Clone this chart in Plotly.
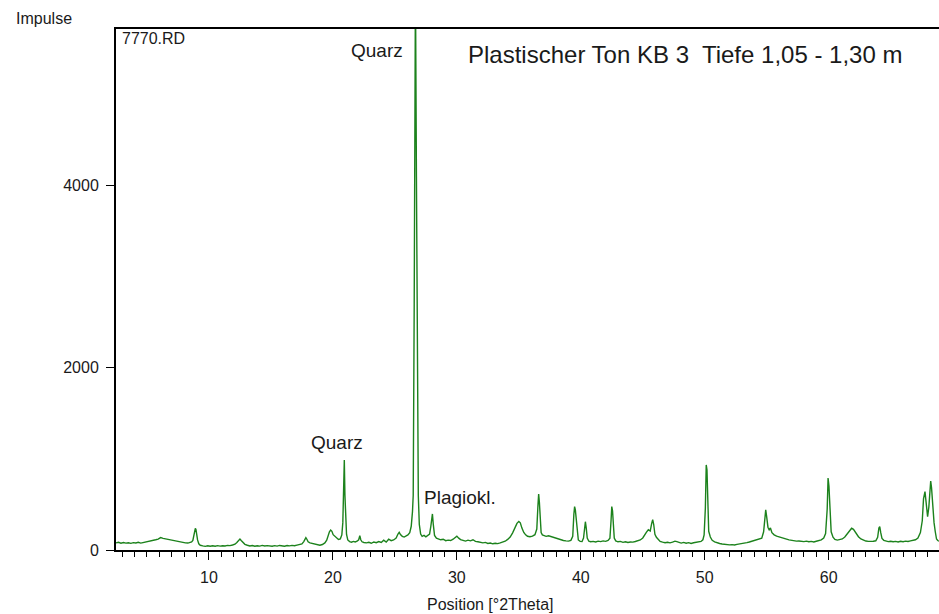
import plotly.graph_objects as go

# ---- diffraction pattern (2Theta in degrees, counts) ----
x1 = [2.5,2.7,2.9,3.1,3.3,3.5,3.7,3.9,4.1,4.3,4.5,4.7,4.9,5.1,5.3,5.5,5.7,5.9,6.1,6.3,6.5,6.7,6.9,7.1,7.3,7.5,7.7,7.9,8.1,8.3,8.5]
y1 = [78,84,75,82,76,80,73,81,77,84,76,82,80,88,93,102,112,120,136,128,122,114,106,100,95,90,86,83,78,76,82]
x2 = [8.6,8.7,8.78,8.85,8.9,8.95,9.0,9.08,9.18,9.3]
y2 = [88,104,150,210,238,225,170,110,68,52]
x3 = [9.5,9.7,9.9,10.1,10.3,10.5,10.7,10.9,11.1,11.3,11.5,11.7,11.9,12.1,12.25,12.4,12.5,12.6,12.75,12.9,13.1]
y3 = [45,40,46,41,47,42,48,43,47,44,50,48,55,64,82,108,120,104,80,62,52]
x4 = [13.3,13.5,13.7,13.9,14.1,14.3,14.5,14.7,14.9,15.1,15.3,15.5,15.7,15.9,16.1,16.3,16.5,16.7,16.9,17.1,17.3,17.5]
y4 = [44,49,42,47,43,50,44,48,45,41,48,43,50,46,42,49,45,51,47,54,57,66]
x5 = [17.65,17.75,17.82,17.9,18.0,18.15,18.35,18.55,18.75,18.95,19.15,19.35,19.5,19.62,19.72,19.82,19.92,20.02,20.15,20.3,20.45,20.6,20.72]
y5 = [92,120,135,118,90,78,72,64,58,52,60,78,108,160,200,218,205,168,150,125,115,122,165]
x6 = [20.8,20.86,20.92,20.97,21.03,21.1,21.2,21.35,21.5,21.65,21.8,21.95,22.08,22.17,22.25,22.35,22.5]
y6 = [300,590,985,600,320,170,110,92,86,94,88,96,112,158,112,90,82]
x7 = [22.7,22.9,23.1,23.3,23.5,23.7,23.9,24.1,24.3,24.5,24.7,24.9,25.1,25.25,25.35,25.45,25.6,25.75,25.9,26.05,26.2,26.32]
y7 = [78,85,74,88,80,92,82,108,86,118,102,110,130,175,194,170,150,142,150,165,190,260]
x8 = [26.42,26.48,26.56,26.66,26.74,26.82,26.89,26.97,27.08]
y8 = [420,600,2700,6200,4090,2000,600,280,175]
x9 = [27.2,27.35,27.5,27.65,27.8,27.9,27.97,28.03,28.1,28.2,28.35,28.5,28.7,28.9,29.1,29.3,29.5,29.7,29.85,30.0,30.15,30.3,30.5,30.7,30.9]
y9 = [150,160,145,158,175,260,360,395,280,160,130,122,112,118,102,108,104,118,140,152,130,114,106,98,108]
x10 = [31.1,31.3,31.5,31.7,31.9,32.1,32.3,32.5,32.7,32.9,33.1,33.3,33.5,33.7,33.9,34.1,34.3,34.5,34.7,34.85,35.0,35.12,35.25,35.4,35.55,35.7,35.9,36.1,36.3]
y10 = [100,112,94,90,84,78,83,72,77,68,74,70,78,84,96,116,142,188,246,292,312,298,240,192,166,150,145,152,168]
x11 = [36.45,36.54,36.6,36.66,36.72,36.8,36.9,37.05,37.2,37.4,37.6,37.8,38.0,38.2,38.4,38.6,38.8,39.0,39.2]
y11 = [230,480,614,520,280,190,165,158,150,156,146,140,130,122,112,104,100,97,106]
x12 = [39.35,39.44,39.5,39.56,39.62,39.7,39.8,39.95,40.1,40.22,40.3,40.37,40.44,40.52,40.65,40.8]
y12 = [150,390,475,440,360,180,110,94,92,130,250,310,240,130,96,90]
x13 = [41.0,41.2,41.4,41.6,41.8,42.0,42.2,42.35,42.44,42.5,42.56,42.62,42.7,42.82,43.0,43.2,43.4,43.6,43.8,44.0,44.2,44.4]
y13 = [94,88,97,92,100,95,104,130,320,475,430,250,130,100,90,94,84,90,82,88,86,93]
x14 = [44.6,44.8,45.0,45.15,45.3,45.45,45.6,45.72,45.8,45.88,45.98,46.1,46.25,46.4,46.6,46.8,47.0,47.2,47.4,47.6,47.75,47.9,48.1,48.3,48.5,48.7,48.9,49.1,49.3,49.5,49.7]
y14 = [98,110,132,172,196,222,208,292,332,282,172,140,112,94,86,80,85,78,86,97,92,82,76,83,74,81,72,79,85,83,94]
x15 = [49.85,49.95,50.05,50.12,50.18,50.24,50.32,50.45,50.6,50.8,51.0,51.2,51.4,51.6,51.8,52.0,52.2,52.4,52.6,52.8,53.0,53.2,53.4,53.6,53.8,54.0,54.2,54.4,54.6]
y15 = [112,165,460,932,880,520,205,142,106,90,78,71,66,61,63,56,59,55,61,64,71,75,81,88,96,101,109,116,130]
x16 = [54.75,54.85,54.92,55.0,55.1,55.2,55.3,55.42,55.6,55.8,56.0,56.2,56.4,56.6,56.8,57.0,57.2,57.4,57.6,57.8,58.0,58.2,58.4,58.6,58.8,59.0,59.2,59.4,59.6]
y16 = [200,380,440,360,250,222,242,190,166,151,141,133,126,119,111,105,101,97,99,94,92,97,90,94,88,96,101,111,132]
x17 = [59.75,59.88,59.95,60.02,60.1,60.2,60.35,60.5,60.7,60.9,61.1,61.3,61.5,61.7,61.85,62.0,62.2,62.4,62.6,62.8,63.0,63.2,63.4,63.6,63.8]
y17 = [180,450,789,700,400,200,140,116,108,113,121,142,182,222,238,226,186,146,121,106,98,94,92,96,101]
x18 = [63.95,64.05,64.12,64.2,64.3,64.45,64.6,64.8,65.0,65.2,65.4,65.6,65.8,66.0,66.2,66.4,66.6,66.8,67.0,67.2,67.4,67.55,67.65,67.77,67.87,67.98,68.08,68.16,68.23,68.3,68.39,68.5,68.6,68.7,68.8,68.9]
y18 = [140,240,255,190,126,106,98,92,96,90,94,88,95,91,97,93,100,104,112,130,190,320,560,640,500,365,470,700,756,680,475,300,200,120,104,96]

x_segments = [x1, x2, x3, x4, x5, x6, x7, x8, x9, x10, x11, x12, x13, x14, x15, x16, x17, x18]
y_segments = [y1, y2, y3, y4, y5, y6, y7, y8, y9, y10, y11, y12, y13, y14, y15, y16, y17, y18]

y_ticks = [0, 2000, 4000]
x_ticks = [10, 20, 30, 40, 50, 60]
x_range = [2.5, 68.9]
y_range = [0, 5710]

two_theta, impulse = [], []
for xs, ys in zip(x_segments, y_segments):
    assert len(xs) == len(ys)
    two_theta += xs
    impulse += ys

W, H = 939, 614
L, R, T, B = 116, 0, 29, 64
PW, PH = W - L - R, H - T - B

def px(xp):
    return (xp - L) / PW

def py(yp):
    return (H - B - yp) / PH

FONT = "Liberation Sans, Arial, sans-serif"
TXT = "#1a1a1a"

fig = go.Figure(go.Scatter(
    x=two_theta, y=impulse, mode="lines",
    line=dict(color="#1c821c", width=1.4),
    hoverinfo="skip", showlegend=False,
))

fig.update_layout(
    width=W, height=H,
    margin=dict(l=L, r=R, t=T, b=B, pad=0),
    paper_bgcolor="white", plot_bgcolor="white",
    font=dict(family=FONT, size=16, color=TXT),
    xaxis=dict(
        range=x_range, tickvals=x_ticks, ticks="outside", ticklen=8, tickwidth=1,
        tickcolor="black", showline=True, linecolor="black", linewidth=2, mirror=True,
        showgrid=False, zeroline=False, ticklabelstandoff=4,
        tickfont=dict(family=FONT, size=16, color=TXT),
        minor=dict(dtick=1, tick0=0, ticks="outside", ticklen=5, tickcolor="black", tickwidth=1, showgrid=False),
    ),
    yaxis=dict(
        range=y_range, tickvals=y_ticks, ticks="outside", ticklen=8, tickwidth=1,
        tickcolor="black", showline=True, linecolor="black", linewidth=2,
        showgrid=False, zeroline=False, ticklabelstandoff=4,
        tickfont=dict(family=FONT, size=16, color=TXT),
    ),
)

ann = [
    dict(text="Plastischer Ton KB 3  Tiefe 1,05 - 1,30 m", x=px(684.5), y=py(54), xanchor="center", yanchor="middle", size=24),
    dict(text="Quarz", x=px(405), y=py(51), xanchor="right", yanchor="middle", size=19),
    dict(text="Quarz", x=px(336.5), y=py(442), xanchor="center", yanchor="middle", size=19),
    dict(text="Plagiokl.", x=px(422), y=py(497), xanchor="left", yanchor="middle", size=19),
    dict(text="7770.RD", x=px(120), y=py(39), xanchor="left", yanchor="middle", size=16),
    dict(text="Impulse", x=px(43.5), y=py(18), xanchor="center", yanchor="middle", size=16),
    dict(text="Position [°2Theta]", x=px(490), y=py(604), xanchor="center", yanchor="middle", size=16),
]
for a in ann:
    fig.add_annotation(
        text=a["text"], x=a["x"], y=a["y"], xref="paper", yref="paper",
        xanchor=a["xanchor"], yanchor=a["yanchor"], showarrow=False,
        font=dict(family=FONT, size=a["size"], color=TXT),
    )

fig.write_html("out.html")
